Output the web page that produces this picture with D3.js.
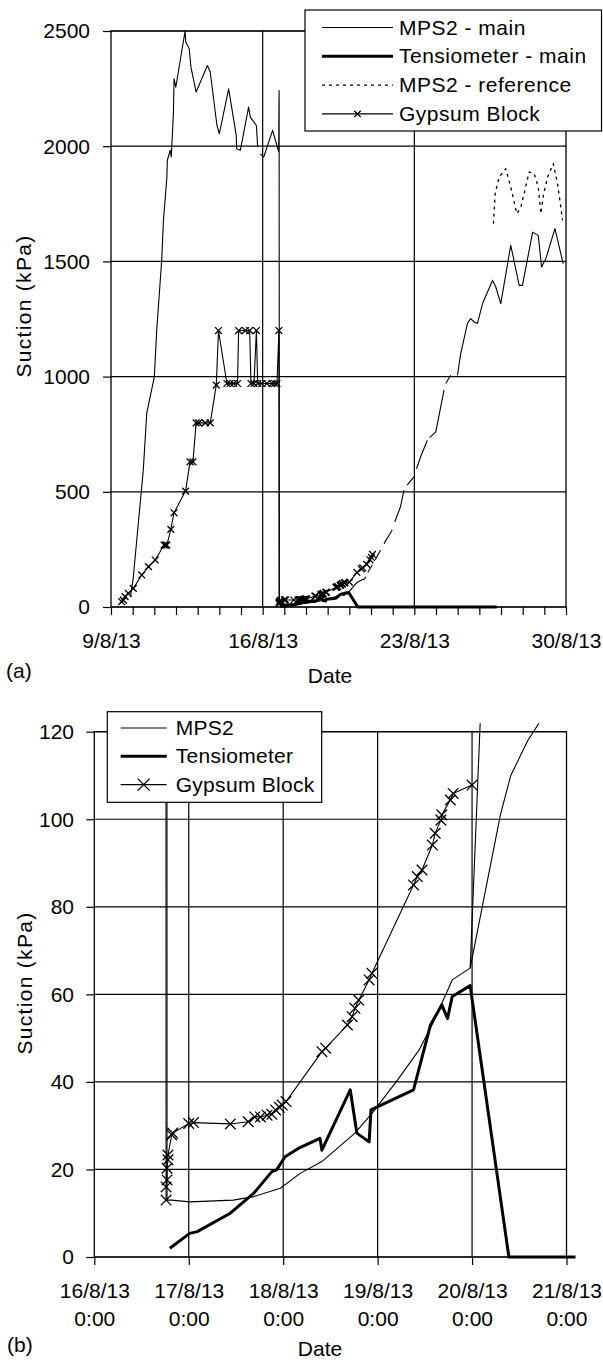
<!DOCTYPE html>
<html><head><meta charset="utf-8">
<script src="https://cdn.jsdelivr.net/npm/d3@7"></script>
<style>
html,body{margin:0;padding:0;background:#fff;}
svg{display:block;}
text{font-family:"Liberation Sans", Arial, sans-serif; fill:#000;}
</style></head><body>
<svg id="chart" width="603" height="1361"></svg>
<script>
// ---------- DATA (day of August 2013, value in kPa) ----------
const mps2Main = [
  [9.9,45],[10.02,120],[10.49,594],[10.65,841],[11.0,999],[11.11,1201],[11.34,1505],[11.42,1678],
  [11.58,1866],[11.6,1938],[11.73,1982],[11.78,1953],[11.88,2141],[11.91,2293],[11.99,2256],
  [12.42,2500],[12.45,2452],[12.61,2423],[12.69,2343],[12.93,2235],[13.45,2350],[13.58,2322],
  [13.89,2090],[14.0,2054],[14.43,2249],[14.78,2047],[14.8,1989],[14.97,1982],[15.35,2170],
  [15.43,2126],[15.71,2090],[15.77,1996],null,[15.89,1967],[16.05,1953],[16.46,2069],[16.74,1975],
  [16.75,2170],[16.76,2242],[16.77,13],[16.82,13],[17.01,12.6],[17.47,13],[17.69,13.8],
  [17.97,15.7],[18.18,19.1],[18.41,21.8],[18.76,28.3],[18.94,32.8],[19.21,40.4],[19.44,47.3],
  [19.6,54.1],[19.79,63.3],[19.98,66],[20.3,101],[20.41,110],[20.59,118],[20.71,122],[20.75,131],
  null,[20.85,150],[21.06,182],null,[21.2,205],[21.44,247],null,[21.6,275],[21.98,334],null,
  [22.1,370],[22.36,435],[22.52,507],null,[22.67,529],[22.98,565],null,[23.1,600],[23.29,652],
  [23.6,724],null,[23.7,735],[23.99,760],[24.37,941],null,[24.45,970],[24.68,1006],null,
  [24.99,1006],[25.14,1100],[25.45,1230],[25.6,1252],[25.76,1237],[25.91,1230],[26.15,1317],
  [26.61,1418],[26.76,1389],[26.99,1317],[27.45,1570],[27.84,1396],[27.99,1396],[28.46,1627],
  [28.72,1613],[28.87,1476],[29.07,1512],[29.49,1642],[29.87,1490]
];
const mps2Branch = [[19.98,66],[20.12,140]];
const mps2Reference = [
  [26.65,1664],[26.73,1794],[26.91,1866],[27.22,1902],[27.45,1823],[27.73,1707],[27.92,1736],
  [28.3,1888],[28.53,1881],[28.72,1823],[28.84,1707],[28.97,1794],[29.15,1866],[29.41,1924],
  [29.61,1837],[29.76,1736],[29.84,1678]
];
const tensiometer = [
  [16.8,2],[17.01,5.4],[17.09,5.8],[17.44,10],[17.69,14.6],[17.88,19.5],[17.93,19.9],[18.02,22.9],
  [18.16,24.8],[18.39,27.1],[18.41,24.4],[18.71,38.2],[18.78,28.3],[18.91,26.3],[18.93,33.6],
  [19.38,38.2],[19.56,53],[19.68,57.6],[19.74,54.5],[19.79,59.5],[19.98,62],[20.39,0],[26.8,0]
];
const gypsum = [
  [9.49,23],[9.57,30],[9.65,45],[9.8,59],[10.03,81],[10.42,139],[10.73,175],[11.04,204],
  [11.45,269],[11.52,269],[11.58,269],[11.76,337],[11.91,409],[12.44,503],[12.65,630],[12.78,630],
  [12.93,799],[13.05,799],[13.35,799],[13.58,799],[13.86,963],[13.96,1200],[14.35,970],[14.5,970],
  [14.66,970],[14.84,970],[14.89,1200],[15.2,1200],[15.4,1200],[15.46,970],[15.6,970],[15.71,1200],
  [15.77,970],[15.96,970],[16.2,970],[16.43,970],[16.55,970],[16.66,970],[16.75,1200],
  [16.76,13],[16.76,16],[16.77,17.6],[16.77,20.3],[16.78,22.2],[16.78,23.3],[16.82,27.9],
  [16.83,28.3],[17.0,30.5],[17.05,30.7],[17.44,30.4],[17.63,30.9],[17.7,32],[17.76,32],
  [17.83,32.4],[17.88,32.6],[17.92,33.6],[17.96,34.2],[17.99,34.7],[18.03,35.5],[18.41,46.9],
  [18.45,47.7],[18.68,53],[18.73,54.9],[18.76,56.8],[18.8,58.7],[18.91,63.3],[18.94,64.8],
  [19.38,85],[19.42,86.9],[19.47,88.4],[19.58,94.1],[19.61,96.8],[19.67,99.8],[19.68,101],
  [19.77,104.4],[19.8,105.9],[20.0,107.8]
];
const gypsumExt = [[20.35,150],[20.55,165],[20.62,170],[20.8,185],[20.95,205],[21.02,215],[21.07,228]];

const topYTicks = [0,500,1000,1500,2000,2500];
const topXTickDays = [9,16,23,30];
const topXTickLabels = ["9/8/13","16/8/13","23/8/13","30/8/13"];
const topLegend = ["MPS2 - main","Tensiometer - main","MPS2 - reference","Gypsum Block"];

const botYTicks = [0,20,40,60,80,100,120];
const botXTickDays = [16,17,18,19,20,21];
const botXTickLabels = ["16/8/13","17/8/13","18/8/13","19/8/13","20/8/13","21/8/13"];
const botXTickTimes = ["0:00","0:00","0:00","0:00","0:00","0:00"];
const botLegend = ["MPS2","Tensiometer","Gypsum Block"];

// ---------- HELPERS ----------
const DAY = 864e5;
const toDate = d => new Date(Date.UTC(2013, 7, 1) + (d - 1) * DAY);
const svg = d3.select("#chart");
const FS = 21;

function crossPath(h){ return `M${-h},${-h}L${h},${h}M${-h},${h}L${h},${-h}`; }

function drawChart(o) {
  const g = svg.append("g");
  const x = d3.scaleUtc().domain([toDate(o.xDom[0]), toDate(o.xDom[1])]).range(o.xRange);
  const y = d3.scaleLinear().domain(o.yDom).range(o.yRange);
  const [x0, x1] = o.xRange, [yb, yt] = o.yRange;

  // gridlines
  g.selectAll(".hg").data(o.yTicks).join("line")
    .attr("x1", x0).attr("x2", x1).attr("y1", d => y(d)).attr("y2", d => y(d))
    .attr("stroke", "#000").attr("stroke-width", 1.2);
  g.selectAll(".vg").data(o.gridDays).join("line")
    .attr("x1", d => x(toDate(d))).attr("x2", d => x(toDate(d)))
    .attr("y1", yt).attr("y2", yb).attr("stroke", "#000").attr("stroke-width", 1.2);
  g.append("rect").attr("x", x0).attr("y", yt).attr("width", x1 - x0).attr("height", yb - yt)
    .attr("fill", "none").attr("stroke", "#000").attr("stroke-width", 1.3);

  // axes
  const ya = g.append("g").attr("transform", `translate(${x0},0)`)
    .call(d3.axisLeft(y).tickValues(o.yTicks).tickSize(8).tickPadding(o.yPad).tickFormat(d3.format("d")));
  ya.select(".domain").remove();
  ya.selectAll("line").attr("stroke", "#000").attr("stroke-width", 1.2);
  ya.selectAll("text").attr("font-size", FS).attr("font-family", "Liberation Sans, Arial, sans-serif")
    .attr("dy", "0.33em").attr("fill", "#000");

  const xa = g.append("g").attr("transform", `translate(0,${yb})`)
    .call(d3.axisBottom(x).tickValues(o.xTickDays.map(toDate)).tickSize(8).tickFormat(""));
  xa.select(".domain").remove();
  xa.selectAll("line").attr("stroke", "#000").attr("stroke-width", 1.2);
  xa.selectAll(".tick").each(function(d) {
    const i = o.xLabelDays.findIndex(v => +toDate(v) === +d);
    const t = d3.select(this).select("text");
    t.text(null).attr("dy", null).attr("y", 41).attr("font-size", FS)
      .attr("font-family", "Liberation Sans, Arial, sans-serif").attr("fill", "#000");
    if (i >= 0) {
      t.append("tspan").attr("x", 0).text(o.xLabels[i]);
      if (o.xLabels2) t.append("tspan").attr("x", 0).attr("dy", 28).text(o.xLabels2[i]);
    }
  });

  // data
  const clipId = "clip" + o.id;
  svg.append("clipPath").attr("id", clipId).append("rect")
    .attr("x", x0).attr("y", yt - 8.5).attr("width", x1 - x0 + o.clipRight).attr("height", yb - yt + 14);
  const dg = g.append("g").attr("clip-path", `url(#${clipId})`);
  const line = d3.line().defined(d => d !== null).x(d => x(toDate(d[0]))).y(d => y(d[1]));
  o.series.forEach(s => {
    dg.append("path").datum(s.data).attr("d", line).attr("fill", "none")
      .attr("stroke", "#000").attr("stroke-width", s.w).attr("stroke-linejoin", "round")
      .attr("stroke-dasharray", s.dash || null);
    if (s.marker) {
      dg.selectAll(null).data(s.data.filter(d => d)).join("path")
        .attr("transform", d => `translate(${x(toDate(d[0]))},${y(d[1])})`)
        .attr("d", crossPath(s.marker)).attr("stroke", "#000").attr("stroke-width", 1.3).attr("fill", "none");
    }
  });

  // legend
  const L = o.legend;
  const lg = svg.append("g");
  lg.append("rect").attr("x", L.x).attr("y", L.y).attr("width", L.w).attr("height", L.h)
    .attr("fill", "#fff").attr("stroke", "#000").attr("stroke-width", 1.2);
  L.items.forEach((it, i) => {
    const by = L.base + i * L.step;
    const ly = by - 7;
    lg.append("line").attr("x1", L.lx0).attr("x2", L.lx1).attr("y1", ly).attr("y2", ly)
      .attr("stroke", "#000").attr("stroke-width", it.w).attr("stroke-dasharray", it.dash || null);
    if (it.marker) lg.append("path").attr("transform", `translate(${(L.lx0 + L.lx1) / 2},${ly})`)
      .attr("d", crossPath(it.marker)).attr("stroke", "#000").attr("stroke-width", 1.3).attr("fill", "none");
    lg.append("text").attr("x", L.tx).attr("y", by).attr("font-size", FS)
      .attr("letter-spacing", L.ls).text(it.label);
  });

  // titles
  svg.append("text").attr("transform", `translate(${o.yTitle[0]},${o.yTitle[1]}) rotate(-90)`)
    .attr("text-anchor", "middle").attr("font-size", FS).attr("letter-spacing", 1.3).text("Suction (kPa)");
  svg.append("text").attr("x", o.xTitle[0]).attr("y", o.xTitle[1])
    .attr("text-anchor", "middle").attr("font-size", FS).text("Date");
  svg.append("text").attr("x", o.tag[0]).attr("y", o.tag[1]).attr("font-size", FS).text(o.tag[2]);
}

// ---------- CHART (a) ----------
drawChart({
  id: "a",
  xDom: [9, 30], xRange: [111, 566],
  yDom: [0, 2500], yRange: [607, 31],
  yTicks: topYTicks, yPad: 13,
  gridDays: [16, 23],
  xTickDays: d3.range(9, 31),
  xLabelDays: topXTickDays, xLabels: topXTickLabels,
  clipRight: 0,
  series: [
    {data: mps2Main, w: 1.1},
    {data: mps2Reference, w: 1.3, dash: "3,4"},
    {data: tensiometer, w: 3},
    {data: gypsum.concat(gypsumExt), w: 1.1, marker: 3.4}
  ],
  legend: {x: 305, y: 10, w: 296.5, h: 121, lx0: 322, lx1: 393, tx: 399, base: 34.5, step: 28.8, ls: 0.5,
    items: [
      {label: topLegend[0], w: 1.1},
      {label: topLegend[1], w: 3},
      {label: topLegend[2], w: 1.3, dash: "3,4"},
      {label: topLegend[3], w: 1.1, marker: 3.2}
    ]},
  yTitle: [31, 306], xTitle: [330, 683], tag: [6, 678, "(a)"]
});

// ---------- CHART (b) ----------
drawChart({
  id: "b",
  xDom: [16, 21], xRange: [94.3, 566.5],
  yDom: [0, 120], yRange: [1257, 731.7],
  yTicks: botYTicks, yPad: 12.3,
  gridDays: [17, 18, 19, 20],
  xTickDays: botXTickDays,
  xLabelDays: botXTickDays, xLabels: botXTickLabels, xLabels2: botXTickTimes,
  clipRight: 9,
  series: [
    {data: mps2Main, w: 1.1},
    {data: mps2Branch, w: 1.1},
    {data: tensiometer, w: 3},
    {data: gypsum, w: 1.1, marker: 5.3}
  ],
  legend: {x: 107.3, y: 711.7, w: 214.4, h: 90.6, lx0: 120.7, lx1: 166.7, tx: 175.7, base: 735, step: 28.3, ls: 0.3,
    items: [
      {label: botLegend[0], w: 1.1},
      {label: botLegend[1], w: 3},
      {label: botLegend[2], w: 1.1, marker: 6}
    ]},
  yTitle: [32, 983], xTitle: [320, 1356], tag: [7, 1352, "(b)"]
});
</script>
</body></html>
